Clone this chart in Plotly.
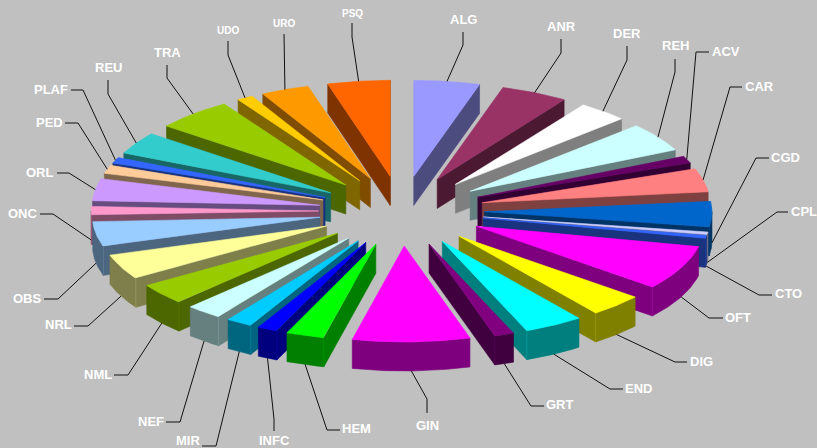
import numpy as np
import plotly.graph_objects as go

# ---- data (share of the pie, %) ----
categories = ["ALG","ANR","DER","REH","ACV","CAR","CGD","CPL","CTO","OFT","DIG","END","GRT","GIN","HEM",
              "INFC","MIR","NEF","NML","NRL","OBS","ONC","ORL","PED","PLAF","REU","TRA","UDO","URO","PSQ"]
values = [4.67,4.75,3.61,4.86,1.28,4.00,4.33,0.42,0.47,7.50,3.83,4.20,1.39,8.33,2.72,
          1.44,1.86,2.58,3.56,4.25,4.17,1.50,3.70,1.39,0.97,3.72,5.47,1.14,3.42,4.42]
colors = ["#9999FF","#993366","#FFFFFF","#CCFFFF","#660066","#FF8080","#0066CC","#CCCCFF","#3366FF","#FF00FF",
          "#FFFF00","#00FFFF","#800080","#FF00FF","#00FF00","#0000FF","#00CCFF","#CCFFFF","#99CC00","#FFFF99",
          "#99CCFF","#FF99CC","#CC99FF","#FFCC99","#3366FF","#33CCCC","#99CC00","#FFCC00","#FF9900","#FF6600"]

# ---- projection of the exploded 3-D pie ----
CX, CY = 401.6, 211.0      # pie centre
RX, RY = 227.4, 96.0       # radius of the tilted disc
EX, EY = 83.0, 35.0        # explosion
DEPTH = 29.0               # wall height
BG = "#C0C0C0"

# ---- label layout: elbow points, text point, anchor, font size ----
label_layout = {
    "ALG": ((463,45),(463,32),(463,19),"center",13), "ANR": ((561,53),(561,39),(561,26),"center",13),
    "DER": ((627,60),(627,46),(627,33),"center",13), "REH": ((675,72),(675,59),(675,45),"center",13),
    "ACV": ((696,52),(709,52),(710,51),"left",13),   "CAR": ((730,87),(742,87),(743,86),"left",13),
    "CGD": ((756,158),(769,158),(769,157),"left",13),"CPL": ((777,212),(788,212),(789,211),"left",13),
    "CTO": ((759,295),(772,295),(773,293),"left",13),"OFT": ((709,318),(723,318),(723,317),"left",13),
    "DIG": ((675,362),(687,362),(688,361),"left",13),"END": ((610,389),(623,389),(623,388),"left",13),
    "GRT": ((531,406),(544,406),(544,404),"left",13),"GIN": ((427,399),(427,413),(427,425),"center",13),
    "HEM": ((327,430),(340,430),(340,428),"left",13),"INFC":((274,419),(274,431),(274,440),"center",13),
    "MIR": ((216,446),(202,446),(202,440),"right",13),"NEF":((180,422),(166,422),(166,421),"right",13),
    "NML": ((128,375),(114,375),(114,374),"right",13),"NRL":((88,326),(74,326),(74,324),"right",13),
    "OBS": ((58,299),(44,299),(44,298),"right",13),  "ONC": ((53,214),(40,214),(40,213),"right",13),
    "ORL": ((69,173),(57,173),(56,172),"right",13),  "PED": ((78,123),(65,123),(65,122),"right",13),
    "PLAF":((83,90),(71,90),(70,89),"right",13),     "REU": ((108,94),(108,80),(108,67),"center",13),
    "TRA": ((167,78),(167,65),(167,52),"center",13), "UDO": ((228,55),(228,41),(228,30),"center",10),
    "URO": ((284,50),(284,34),(284,23),"center",10), "PSQ": ((352,37),(352,23),(352,13),"center",10),
}


def rgb(hex_color):
    return [int(hex_color[i:i + 2], 16) for i in (1, 3, 5)]


def darker(hex_color):
    r, g, b = rgb(hex_color)
    return f"rgb({r // 2},{g // 2},{b // 2})"


def edge_tint(hex_color):
    r, g, b = rgb(hex_color)
    return f"rgb({int(r * .62)},{int(g * .62)},{int(b * .62)})"


fractions = np.array(values, dtype=float) / np.sum(values)
edges = np.concatenate([[0.0], np.cumsum(fractions)]) * 2 * np.pi

fig = go.Figure()


def poly(xs, ys, color, name):
    fig.add_trace(go.Scatter(x=list(xs), y=list(ys), mode="lines", fill="toself", fillcolor=color,
                             line=dict(color=color, width=0.6), name=name, hoverinfo="name", showlegend=False))


wedges = []
for i, name in enumerate(categories):
    a, b = edges[i], edges[i + 1]
    m = (a + b) / 2
    ax = CX + EX * np.sin(m)
    ay = CY - EY * np.cos(m)
    wedges.append((i, name, a, b, m, ax, ay))

for i, name, a, b, m, ax, ay in sorted(wedges, key=lambda w: w[6]):
    top, side = colors[i], darker(colors[i])

    def pt(t):
        return ax + RX * np.sin(t), ay - RY * np.cos(t)

    corners = []
    # radial walls facing the viewer
    for t0, visible in ((b, np.sin(b) > 0), (a, np.sin(a) < 0)):
        if visible:
            x, y = pt(t0)
            poly([ax, x, x, ax, ax], [ay, y, y + DEPTH, ay + DEPTH, ay], side, name)
            if np.cos(t0) < 0:
                corners.append((x, y))
    # outer wall, front half of the disc only
    lo, hi = max(a, np.pi / 2), min(b, 3 * np.pi / 2)
    if hi > lo:
        t = np.linspace(lo, hi, 40)
        x, y = pt(t)
        poly(np.r_[x, x[::-1], x[0]], np.r_[y, y[::-1] + DEPTH, y[0]], side, name)
    # faint highlight where the radial wall meets the outer wall
    for x, y in corners:
        fig.add_trace(go.Scatter(x=[x, x], y=[y, y + DEPTH], mode="lines",
                                 line=dict(color=edge_tint(top), width=0.7), hoverinfo="skip", showlegend=False))
    # top face
    t = np.linspace(a, b, 50)
    x, y = pt(t)
    poly(np.r_[ax, x, ax], np.r_[ay, y, ay], top, name)

annotations = []
for i, name, a, b, m, ax, ay in wedges:
    e1, e2, tp, anchor, size = label_layout[name]
    sx = ax + RX * np.sin(m)
    sy = ay - RY * np.cos(m) + (DEPTH if np.cos(m) < 0.02 else 0)
    fig.add_trace(go.Scatter(x=[sx, e1[0], e2[0]], y=[sy, e1[1], e2[1]], mode="lines",
                             line=dict(color="#111111", width=1), hoverinfo="skip", showlegend=False))
    annotations.append(dict(x=tp[0], y=tp[1], text=name, showarrow=False, xanchor=anchor, yanchor="middle",
                            xref="x", yref="y",
                            font=dict(family="Liberation Sans", size=size, color="white", weight="bold")))

fig.update_layout(
    width=817, height=448, autosize=False, margin=dict(l=0, r=0, t=0, b=0),
    paper_bgcolor=BG, plot_bgcolor=BG, showlegend=False, annotations=annotations,
    xaxis=dict(range=[0, 817], visible=False, fixedrange=True),
    yaxis=dict(range=[448, 0], visible=False, fixedrange=True),
)
fig.write_html("out.html", config={"displayModeBar": False},
               post_script="document.body.style.margin='0';document.body.style.overflow='hidden';")
